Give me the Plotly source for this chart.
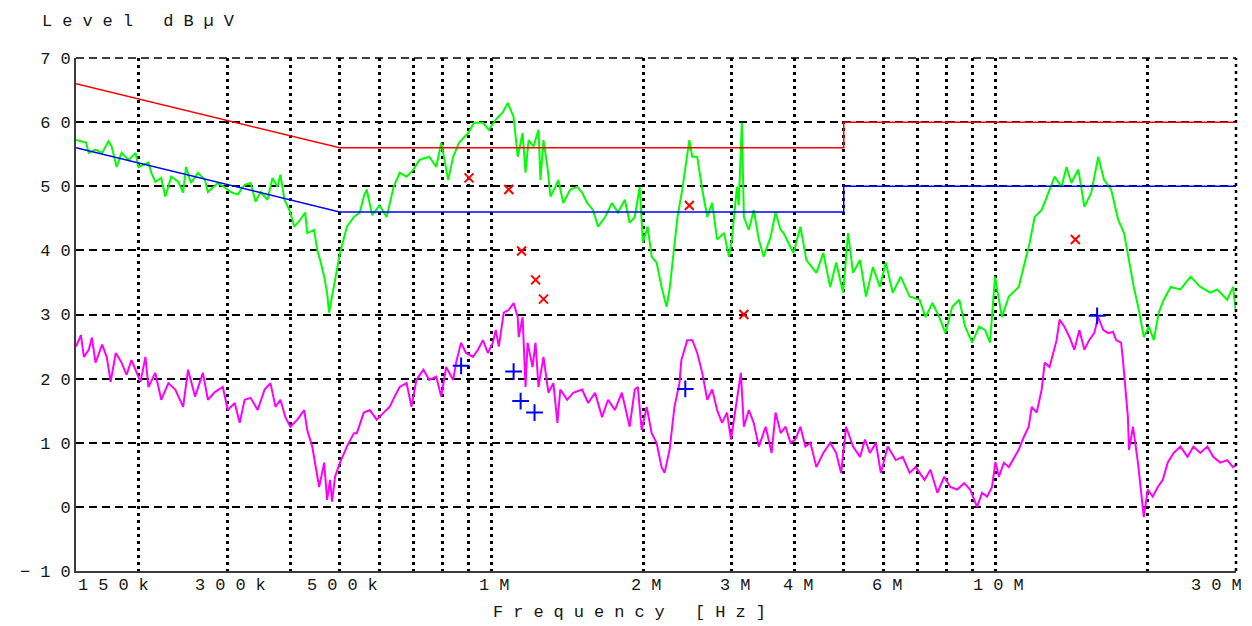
import math
import plotly.graph_objects as go

# ---------------- data (frequencies in MHz, levels in dBµV) ----------------
peak_freq = [0.150, 0.157, 0.159, 0.164, 0.169, 0.174, 0.1765, 0.1806, 0.1847, 0.1907, 0.1969, 0.1995,
             0.2088, 0.2116, 0.2155, 0.2214, 0.2256, 0.2317, 0.2393, 0.2447, 0.2479, 0.2536, 0.2618, 0.2703,
             0.274, 0.2867, 0.296, 0.3041, 0.3139, 0.324, 0.333, 0.3407, 0.3484, 0.3597, 0.368, 0.3763,
             0.3816, 0.3886, 0.3975, 0.4066, 0.4178, 0.4274, 0.4313, 0.4452, 0.4513, 0.4575, 0.466, 0.4722,
             0.4766, 0.4831, 0.4897, 0.5009, 0.517, 0.5337, 0.5483, 0.5584, 0.566, 0.58, 0.60, 0.620,
             0.640, 0.658, 0.679, 0.7006, 0.72, 0.753, 0.7775, 0.7953, 0.821, 0.840, 0.863, 0.8997,
             0.9235, 0.9622, 0.9887, 1.0206, 1.0535, 1.078, 1.0924, 1.107, 1.128, 1.1534, 1.169, 1.1853,
             1.2125, 1.2403, 1.2516, 1.2688, 1.2921, 1.31, 1.34, 1.358, 1.389, 1.434, 1.480, 1.514,
             1.549, 1.591, 1.628, 1.681, 1.735, 1.783, 1.840, 1.881, 1.925, 1.969, 1.998, 2.042,
             2.080, 2.127, 2.176, 2.226, 2.257, 2.288, 2.34, 2.392, 2.437, 2.47, 2.504, 2.561,
             2.62, 2.681, 2.742, 2.804, 2.894, 2.961, 3.0, 3.07, 3.095, 3.14, 3.169, 3.242,
             3.315, 3.393, 3.469, 3.58, 3.663, 3.749, 3.799, 3.975, 4.103, 4.216, 4.413, 4.554,
             4.701, 4.831, 4.986, 5.1, 5.218, 5.387, 5.535, 5.714, 5.897, 6.06, 6.256, 6.487,
             6.757, 7.07, 7.266, 7.498, 7.739, 7.953, 8.21, 8.475, 8.707, 8.99, 9.279, 9.535,
             9.754, 9.98, 10.3, 10.63, 11.12, 11.38, 11.69, 11.96, 12.35, 12.74, 13.1, 13.52,
             13.83, 14.14, 14.6, 15.01, 15.49, 15.99, 16.42, 16.96, 17.51, 17.99, 18.4, 18.81,
             19.25, 19.69, 20.15, 20.61, 21.08, 21.57, 22.26, 23.28, 24.37, 25.49, 26.68, 27.54,
             28.81, 29.6, 30.0]
peak_level = [57.2, 56.8, 55.2, 55.7, 55.2, 57.0, 56.2, 53.0, 55.2, 54.1, 55.2, 53.0,
              53.7, 52.1, 50.7, 51.3, 48.4, 51.5, 50.7, 49.0, 53.0, 50.5, 52.1, 51.0,
              49.1, 50.5, 49.8, 49.1, 48.7, 50.2, 50.5, 47.6, 49.1, 47.9, 51.3, 49.9,
              51.8, 47.9, 46.3, 43.7, 44.8, 45.9, 42.7, 43.2, 40.1, 38.5, 35.9, 33.4,
              30.3, 32.8, 35.4, 39.6, 43.7, 45.2, 45.9, 48.4, 49.5, 45.5, 47.0, 45.2,
              49.9, 52.1, 51.5, 52.6, 54.1, 54.6, 53.0, 56.8, 51.0, 54.6, 56.8, 58.3,
              59.9, 59.9, 58.8, 60.4, 61.5, 63.0, 61.9, 60.8, 54.6, 58.3, 52.1, 57.2,
              56.2, 58.8, 51.0, 57.2, 53.0, 48.4, 49.9, 51.0, 47.4, 49.5, 49.9, 49.0,
              47.4, 46.3, 43.7, 45.2, 47.4, 45.9, 47.9, 44.3, 45.2, 49.9, 41.2, 43.7,
              39.0, 38.1, 34.3, 31.2, 33.9, 38.1, 45.2, 49.5, 53.7, 57.2, 54.6, 54.6,
              49.5, 45.2, 47.4, 41.7, 42.7, 39.0, 41.7, 49.9, 47.0, 59.9, 45.2, 43.2,
              46.3, 41.7, 39.0, 42.1, 45.9, 43.2, 42.7, 39.6, 43.7, 38.5, 36.5, 39.6,
              34.3, 38.1, 33.4, 42.7, 36.5, 38.5, 32.8, 37.4, 34.3, 38.1, 33.4, 35.9,
              32.8, 32.3, 29.6, 31.8, 29.6, 27.1, 31.2, 32.3, 28.1, 25.6, 28.1, 27.6,
              25.6, 35.9, 29.6, 32.8, 34.3, 37.4, 41.2, 45.2, 46.3, 49.0, 51.5, 49.9,
              53.0, 50.5, 52.6, 46.8, 49.0, 54.6, 51.0, 49.5, 44.8, 42.7, 38.5, 34.3,
              30.7, 26.5, 28.1, 26.0, 30.3, 32.3, 34.3, 33.9, 35.9, 34.3, 33.4, 33.9,
              32.3, 34.3, 30.3]

avg_freq = [0.150, 0.1534, 0.1555, 0.159, 0.1613, 0.164, 0.169, 0.1726, 0.1757, 0.1799, 0.1847, 0.189,
            0.1933, 0.1969, 0.2014, 0.206, 0.2088, 0.2155, 0.2214, 0.2287, 0.236, 0.2447, 0.2502, 0.2584,
            0.2678, 0.274, 0.2828, 0.2933, 0.3, 0.3097, 0.3168, 0.324, 0.333, 0.344, 0.355, 0.3646,
            0.3731, 0.3816, 0.3903, 0.3993, 0.4122, 0.4254, 0.4313, 0.4413, 0.4473, 0.4554, 0.466, 0.4722,
            0.4787, 0.4831, 0.4897, 0.5009, 0.517, 0.5337, 0.541, 0.5584, 0.574, 0.5924, 0.6115, 0.6284,
            0.6428, 0.658, 0.679, 0.6943, 0.7102, 0.7331, 0.753, 0.7775, 0.7953, 0.8135, 0.840, 0.8512,
            0.8707, 0.8907, 0.9194, 0.9407, 0.9622, 0.9843, 1.0068, 1.0206, 1.0346, 1.0583, 1.0826, 1.107,
            1.128, 1.133, 1.1534, 1.169, 1.18, 1.207, 1.2236, 1.2403, 1.2688, 1.2979, 1.3276, 1.3522,
            1.37, 1.414, 1.453, 1.514, 1.556, 1.606, 1.658, 1.704, 1.758, 1.815, 1.881, 1.925,
            1.952, 1.987, 2.033, 2.080, 2.127, 2.176, 2.206, 2.257, 2.308, 2.361, 2.382, 2.447,
            2.504, 2.561, 2.62, 2.681, 2.742, 2.804, 2.868, 2.934, 2.988, 3.056, 3.126, 3.169,
            3.242, 3.315, 3.393, 3.501, 3.597, 3.663, 3.749, 3.833, 3.921, 4.01, 4.103, 4.197,
            4.294, 4.413, 4.554, 4.701, 4.831, 4.941, 5.054, 5.218, 5.387, 5.51, 5.636, 5.791,
            5.924, 6.115, 6.341, 6.546, 6.757, 6.943, 7.232, 7.43, 7.67, 7.917, 8.135, 8.397,
            8.668, 8.907, 9.194, 9.407, 9.622, 9.843, 10.0, 10.16, 10.39, 10.63, 11.04, 11.12,
            11.38, 11.64, 11.8, 12.07, 12.35, 12.52, 12.8, 13.04, 13.22, 13.4, 13.7, 14.02,
            14.34, 14.67, 15.01, 15.34, 15.7, 15.99, 16.35, 16.73, 17.11, 17.35, 17.75, 17.9,
            18.07, 18.31, 18.4, 18.74, 19.17, 19.43, 19.69, 20.05, 20.51, 20.99, 21.47, 21.96,
            22.56, 23.28, 24.04, 24.7, 25.49, 26.32, 27.04, 27.91, 28.81, 29.6, 30.0]
avg_level = [25.0, 26.8, 23.4, 24.5, 26.4, 22.5, 25.3, 23.4, 19.5, 24.0, 22.5, 20.6,
             22.9, 21.4, 19.5, 23.4, 18.7, 20.9, 16.7, 19.3, 18.3, 15.6, 21.4, 17.2,
             20.9, 16.7, 17.9, 18.7, 15.1, 16.2, 13.1, 16.7, 17.0, 15.1, 18.3, 19.3,
             15.6, 16.7, 14.0, 12.5, 13.6, 15.1, 12.0, 9.4, 6.9, 3.1, 6.9, 1.1,
             4.2, 0.8, 4.7, 6.9, 9.4, 11.5, 11.5, 14.7, 15.1, 13.6, 14.7, 15.6,
             17.2, 18.7, 19.3, 15.6, 19.8, 21.4, 19.8, 20.3, 17.2, 21.8, 19.8, 22.5,
             25.6, 24.0, 23.4, 24.5, 26.0, 24.0, 25.6, 27.6, 25.0, 30.3, 30.7, 31.8,
             29.6, 26.5, 29.6, 18.7, 25.6, 21.8, 25.6, 18.7, 23.4, 17.8, 19.3, 13.1,
             18.3, 16.7, 17.8, 18.3, 16.2, 17.8, 14.0, 16.7, 15.1, 17.8, 12.5, 18.3,
             18.7, 12.0, 15.6, 11.5, 10.0, 6.2, 5.3, 8.9, 15.6, 19.3, 22.9, 26.0,
             26.0, 24.0, 20.9, 16.7, 18.3, 15.1, 13.1, 14.7, 10.5, 15.6, 20.9, 12.5,
             15.1, 13.1, 9.4, 12.5, 8.4, 14.7, 11.5, 12.5, 10.0, 10.5, 12.5, 9.4,
             10.0, 6.2, 8.4, 10.0, 8.4, 5.3, 12.5, 9.4, 7.8, 10.5, 8.4, 10.0,
             5.3, 9.4, 7.3, 7.8, 5.3, 6.2, 4.2, 5.8, 2.2, 4.7, 3.1, 2.7,
             3.7, 2.7, 0.0, 2.2, 1.6, 3.1, 7.0, 4.7, 6.9, 6.2, 8.4, 8.9,
             10.9, 12.5, 15.6, 14.7, 18.3, 22.5, 21.8, 24.5, 26.0, 29.2, 28.1, 26.5,
             24.5, 27.6, 24.5, 26.0, 27.1, 29.6, 27.6, 27.1, 27.3, 26.0, 25.6, 22.9,
             19.3, 14.0, 8.9, 12.5, 6.9, 3.1, -1.6, 2.7, 1.6, 3.1, 4.2, 6.9,
             8.4, 9.4, 7.8, 9.4, 8.4, 9.4, 7.8, 6.9, 7.3, 6.2, 6.5]

qp_limit_freq = [0.15, 0.5, 5.0, 5.0, 30.0]
qp_limit_level = [66, 56, 56, 60, 60]
av_limit_freq = [0.15, 0.5, 5.0, 5.0, 30.0]
av_limit_level = [56, 46, 46, 50, 50]

qp_mark_freq = [0.903, 1.083, 1.148, 1.224, 1.269, 2.47, 3.169, 14.4]
qp_mark_level = [51.3, 49.5, 39.9, 35.4, 32.4, 47.0, 30.0, 41.7]
av_mark_freq = [0.871, 1.107, 1.143, 1.218, 2.425, 15.91]
av_mark_level = [22.0, 21.1, 16.5, 14.7, 18.4, 29.8]

grid_freq = [0.2, 0.3, 0.4, 0.5, 0.6, 0.7, 0.8, 0.9, 1, 2, 3, 4, 5, 6, 7, 8, 9, 10, 20, 30]
xlabel_freq = [0.15, 0.3, 0.5, 1, 2, 3, 4, 6, 10, 30]
xlabel_text = ["150k", "300k", "500k", "1M", "2M", "3M", "4M", "6M", "10M", "30M"]
y_ticks = [-10, 0, 10, 20, 30, 40, 50, 60, 70]

FONT = "Liberation Mono, Courier New, monospace"
FSIZE = 17
TXT = "#151515"
SP = 10


def spaced(s, sp=SP):
    # letter-spaced text, without trailing space after the last glyph
    return '<span style="letter-spacing:%dpx">%s</span>%s' % (sp, s[:-1], s[-1])


fig = go.Figure()

fig.add_trace(go.Scatter(x=avg_freq, y=avg_level, mode="lines",
                         line=dict(color="#ff00ff", width=2), hoverinfo="skip"))
fig.add_trace(go.Scatter(x=peak_freq, y=peak_level, mode="lines",
                         line=dict(color="#00ff00", width=2), hoverinfo="skip"))
fig.add_trace(go.Scatter(x=qp_limit_freq, y=qp_limit_level, mode="lines",
                         line=dict(color="#ff0000", width=1.5), hoverinfo="skip"))
fig.add_trace(go.Scatter(x=av_limit_freq, y=av_limit_level, mode="lines",
                         line=dict(color="#0000ff", width=1.5), hoverinfo="skip"))
fig.add_trace(go.Scatter(x=qp_mark_freq, y=qp_mark_level, mode="markers",
                         marker=dict(symbol="x-thin", size=9, line=dict(color="#ff0000", width=2)),
                         hoverinfo="skip"))
fig.add_trace(go.Scatter(x=av_mark_freq, y=av_mark_level, mode="markers",
                         marker=dict(symbol="cross-thin", size=12, line=dict(color="#0000ff", width=2)),
                         hoverinfo="skip"))

annotations = []
for f, t in zip(xlabel_freq, xlabel_text):
    anchor, shift = "center", 3
    if f == xlabel_freq[0]:
        anchor, shift = "left", 0
    elif f == xlabel_freq[-1]:
        anchor, shift = "right", 8
    annotations.append(dict(x=math.log10(f), y=-0.029, xref="x", yref="paper", text=spaced(t),
                            xanchor=anchor, yanchor="middle", xshift=shift, showarrow=False,
                            font=dict(family=FONT, size=FSIZE, color=TXT)))
annotations.append(dict(x=-0.031, y=1.072, xref="paper", yref="paper", text=spaced("Level dBµV"),
                        xanchor="left", yanchor="middle", showarrow=False,
                        font=dict(family=FONT, size=FSIZE, color=TXT)))
annotations.append(dict(x=0.4773, y=-0.080, xref="paper", yref="paper", text=spaced("Frequency [Hz]"),
                        xanchor="center", yanchor="middle", showarrow=False,
                        font=dict(family=FONT, size=FSIZE, color=TXT)))

# edge grid lines (top at 70 dB, right at 30 MHz) that the axis grid omits
shapes = [
    dict(type="line", xref="paper", yref="paper", x0=0, x1=1, y0=1, y1=1,
         line=dict(color="#000000", width=1.5, dash="8px,5px")),
    dict(type="line", xref="paper", yref="paper", x0=1, x1=1, y0=0, y1=1,
         line=dict(color="#000000", width=2.5, dash="3px,4px")),
]

fig.update_layout(
    width=1244, height=618,
    margin=dict(l=59, r=16, t=50, b=55),
    paper_bgcolor="white", plot_bgcolor="white",
    showlegend=False,
    annotations=annotations,
    shapes=shapes,
    xaxis=dict(type="log", range=[math.log10(0.15), math.log10(30)], tickvals=grid_freq,
               showticklabels=False, ticks="", showgrid=True, gridcolor="#000000", gridwidth=2.5,
               griddash="3px,4px", showline=True, linecolor="#3c3c3c", linewidth=2, zeroline=False),
    yaxis=dict(range=[-10, 70], tickvals=y_ticks,
               ticktext=[spaced(str(v).replace("-", "−")) for v in y_ticks],
               ticks="", showgrid=True, gridcolor="#000000", gridwidth=1.5, griddash="8px,5px",
               showline=True, linecolor="#3c3c3c", linewidth=2, zeroline=False,
               tickfont=dict(family=FONT, size=FSIZE, color=TXT), ticklabelstandoff=0),
)

fig.write_html("out.html")
